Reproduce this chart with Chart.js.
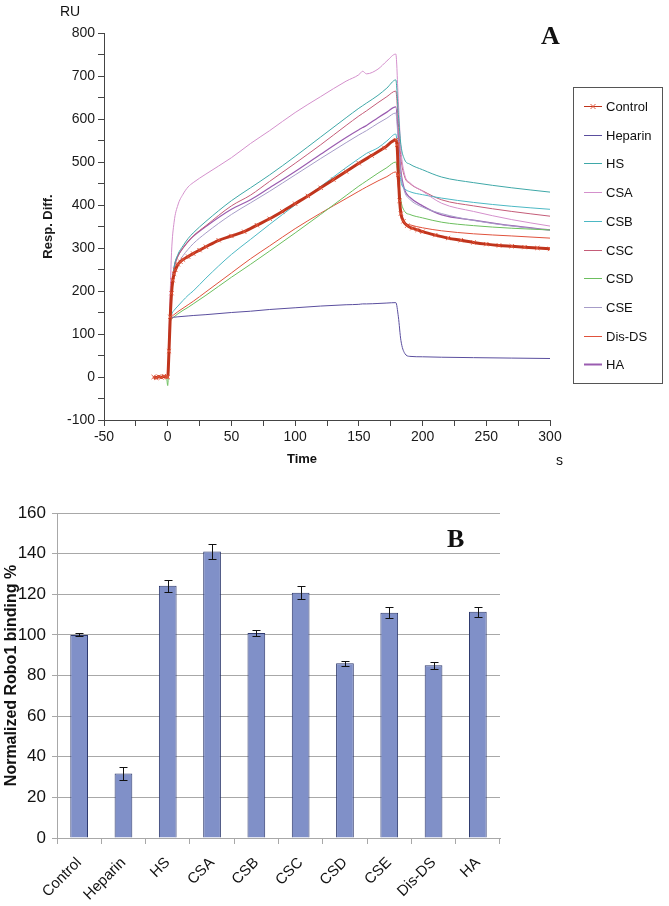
<!DOCTYPE html>
<html>
<head>
<meta charset="utf-8">
<script src="https://cdn.jsdelivr.net/npm/chart.js@4.4.1/dist/chart.umd.min.js"></script>
<style>
  body { margin: 0; background: #fff; }
  #wrap { position: relative; width: 669px; height: 906px; }
  canvas { position: absolute; left: 0; }
  #chartA { top: 0; }
  #chartB { top: 470px; }
</style>
</head>
<body>
<div id="wrap">
  <canvas id="chartA" width="669" height="470"></canvas>
  <canvas id="chartB" width="669" height="436"></canvas>
</div>
<script>
// ---- panel A : sensorgrams (RU vs time, s) ----
const timeS = [-11, -1, 0, 1, 2, 3, 5, 8, 12, 16, 20, 30, 50, 65, 80, 100, 120, 140, 150, 153, 156, 165, 172, 179, 181, 183, 186, 190, 200, 215, 240, 270, 300];

const controlTime = [-11, -9, -7, -5, -3, -1, 0, 1, 2, 3, 4, 5, 6, 8, 10, 12, 16, 20, 25, 30, 40, 50, 60, 70, 80, 90, 100, 110, 120, 130, 140, 150, 160, 170, 179, 180, 181, 182, 183, 185, 188, 192, 196, 200, 210, 220, 230, 240, 250, 260, 270, 280, 290, 300];
const controlRU = [0, -2, 1, -1, 2, 0, 0, 60, 140, 195, 225, 240, 249, 262, 268, 273, 280, 287, 295, 303, 318, 328, 338, 353, 368, 385, 403, 421, 440, 459, 478, 497, 515, 533, 551, 540, 470, 410, 380, 362, 352, 346, 342, 338, 330, 323, 318, 313, 309, 306, 304, 302, 300, 298];

const heparinRU = [0, 0, 0, 60, 125, 137, 139, 140, 141, 142, 143, 145, 150, 153, 157, 161, 165, 168, 169, 170, 170, 171, 172, 173, 140, 85, 55, 48, 47, 46, 45, 44, 43];
const hsRU      = [0, 0, 0, 70, 150, 200, 255, 285, 305, 322, 335, 362, 410, 440, 470, 513, 558, 603, 625, 631, 637, 655, 672, 691, 610, 540, 505, 495, 482, 465, 452, 440, 430];
const csaRU     = [0, 0, 0, 100, 200, 290, 360, 400, 425, 442, 452, 472, 510, 543, 573, 615, 652, 688, 703, 711, 705, 716, 735, 751, 640, 530, 470, 452, 432, 404, 385, 366, 351];
const csbRU     = [0, 0, 0, 60, 130, 145, 155, 165, 178, 190, 200, 230, 285, 320, 355, 400, 443, 487, 508, 514, 520, 533, 549, 565, 505, 455, 438, 431, 424, 416, 406, 397, 390];
const cscRU     = [0, 0, 0, 70, 150, 200, 250, 280, 300, 315, 328, 352, 398, 423, 455, 497, 540, 585, 607, 613, 619, 638, 652, 665, 590, 510, 465, 450, 433, 412, 398, 385, 374];
const csdRU     = [0, 0, -20, 50, 125, 135, 140, 147, 155, 162, 170, 190, 232, 262, 293, 335, 378, 422, 444, 450, 456, 474, 487, 500, 460, 410, 385, 378, 370, 360, 352, 346, 342];
const cseRU     = [0, 0, 0, 70, 145, 190, 235, 262, 282, 297, 310, 335, 378, 405, 432, 470, 508, 545, 563, 568, 573, 590, 602, 614, 545, 470, 430, 413, 395, 380, 364, 351, 341];
const disdsRU   = [0, 0, 0, 60, 130, 140, 145, 152, 160, 168, 176, 198, 242, 275, 305, 345, 381, 415, 432, 437, 442, 456, 466, 477, 440, 385, 360, 354, 347, 340, 333, 328, 323];
const haRU      = [0, 0, 0, 70, 150, 205, 255, 282, 300, 315, 327, 350, 390, 412, 440, 478, 518, 557, 575, 580, 585, 603, 616, 628, 560, 480, 435, 418, 398, 377, 365, 352, 342];

// ---- panel B : normalized binding ----
const categories = ['Control', 'Heparin', 'HS', 'CSA', 'CSB', 'CSC', 'CSD', 'CSE', 'Dis-DS', 'HA'];
const bindingPct = [100, 31.8, 124.2, 141.1, 100.9, 120.8, 86.0, 110.9, 85.0, 111.4];
const bindingErr = [0.7, 3.3, 3.0, 3.8, 1.5, 3.3, 1.3, 2.8, 1.8, 2.5];

Chart.defaults.font.family = "'Liberation Sans', Arial, sans-serif";
Chart.defaults.color = '#1a1a1a';

function pts(xs, ys) {
  return xs.map((x, i) => ({ x: x, y: ys[i] }));
}

function curve(label, ys, color, width) {
  return {
    label: label,
    data: pts(timeS, ys),
    borderColor: color,
    backgroundColor: color,
    borderWidth: width || 1,
    pointRadius: 0,
    cubicInterpolationMode: 'monotone'
  };
}

const sensorSets = [
  curve('Heparin', heparinRU, '#5A4E9E'),
  curve('HS', hsRU, '#3FA8A8'),
  curve('CSA', csaRU, '#D490CC'),
  curve('CSB', csbRU, '#4CB8C4'),
  curve('CSC', cscRU, '#C45C78'),
  curve('CSD', csdRU, '#6CBF5E'),
  curve('CSE', cseRU, '#A69CC8'),
  curve('Dis-DS', disdsRU, '#E0523C'),
  curve('HA', haRU, '#9A5CB0', 1.2),
  {
    label: 'Control',
    data: pts(controlTime, controlRU),
    borderColor: '#C0341C',
    backgroundColor: '#C0341C',
    borderWidth: 3,
    pointStyle: 'crossRot',
    pointRadius: 3,
    pointBorderWidth: 1,
    pointBorderColor: '#E0553A',
    cubicInterpolationMode: 'monotone',
    order: -1
  }
];
const legendOrder = ['Control', 'Heparin', 'HS', 'CSA', 'CSB', 'CSC', 'CSD', 'CSE', 'Dis-DS', 'HA'];

// box legend + free labels for panel A
const panelALabels = {
  id: 'panelALabels',
  afterDraw(chart) {
    const ctx = chart.ctx;
    ctx.save();
    ctx.strokeStyle = '#555';
    ctx.lineWidth = 1;
    ctx.strokeRect(573.5, 87.5, 89, 296);
    ctx.font = "13px 'Liberation Sans', Arial";
    ctx.textBaseline = 'middle';
    ctx.textAlign = 'left';
    legendOrder.forEach((name, i) => {
      const ds = chart.data.datasets.find(d => d.label === name);
      const y = Math.round(106 + i * 28.7) + 0.5;
      ctx.strokeStyle = ds.borderColor;
      ctx.lineWidth = name === 'HA' ? 2 : 1;
      ctx.beginPath();
      ctx.moveTo(584, y);
      ctx.lineTo(602, y);
      ctx.stroke();
      if (ds.pointStyle === 'crossRot') {
        ctx.strokeStyle = ds.pointBorderColor;
        ctx.beginPath();
        ctx.moveTo(590.5, y - 2.5); ctx.lineTo(595.5, y + 2.5);
        ctx.moveTo(590.5, y + 2.5); ctx.lineTo(595.5, y - 2.5);
        ctx.stroke();
      }
      ctx.fillStyle = '#111';
      ctx.fillText(name, 606, y + 1);
    });
    ctx.fillStyle = '#111';
    ctx.textBaseline = 'alphabetic';
    ctx.font = "14px 'Liberation Sans', Arial";
    ctx.fillText('RU', 60, 16);
    ctx.fillText('s', 556, 465);
    ctx.font = "bold 13px 'Liberation Sans', Arial";
    ctx.textAlign = 'center';
    ctx.fillText('Time', 302, 463);
    ctx.textAlign = 'left';
    ctx.font = "bold 26px 'Liberation Serif', 'Times New Roman', serif";
    ctx.fillText('A', 541, 44);
    ctx.restore();
  }
};

new Chart(document.getElementById('chartA'), {
  type: 'line',
  data: { datasets: sensorSets },
  options: {
    responsive: false,
    animation: false,
    layout: { padding: { top: 33, right: 119, left: 0, bottom: 0 } },
    plugins: { legend: { display: false }, tooltip: { enabled: false } },
    scales: {
      x: {
        type: 'linear',
        min: -50,
        max: 300,
        afterFit: s => { s.height = 50; },
        border: { color: '#444' },
        grid: { drawOnChartArea: false, tickLength: 6, color: '#444' },
        ticks: {
          stepSize: 25,
          autoSkip: false,
          maxRotation: 0,
          padding: 3,
          font: { size: 14 },
          callback: v => (v % 50 === 0 ? v : '')
        }
      },
      y: {
        min: -100,
        max: 800,
        afterFit: s => { s.width = 104; },
        border: { color: '#444' },
        grid: { drawOnChartArea: false, tickLength: 6, color: '#444' },
        title: {
          display: true,
          text: 'Resp. Diff.',
          font: { size: 13, weight: 'bold' },
          padding: { top: 41, bottom: 0 }
        },
        ticks: {
          stepSize: 50,
          autoSkip: false,
          padding: 3,
          font: { size: 14 },
          callback: v => (v % 100 === 0 ? v : '')
        }
      }
    }
  },
  plugins: [panelALabels]
});

// error bars + panel letter for B
const errorBars = {
  id: 'errorBars',
  afterDatasetsDraw(chart) {
    const ctx = chart.ctx;
    const yScale = chart.scales.y;
    const meta = chart.getDatasetMeta(0);
    ctx.save();
    ctx.strokeStyle = '#111';
    ctx.lineWidth = 1;
    meta.data.forEach((bar, i) => {
      const v = bindingPct[i], e = bindingErr[i];
      const top = Math.round(yScale.getPixelForValue(v + e)) + 0.5;
      const bot = Math.round(yScale.getPixelForValue(v - e)) + 0.5;
      const x = Math.round(bar.x) + 0.5;
      ctx.beginPath();
      ctx.moveTo(x, top); ctx.lineTo(x, bot);
      ctx.moveTo(x - 4, top); ctx.lineTo(x + 4, top);
      ctx.moveTo(x - 4, bot); ctx.lineTo(x + 4, bot);
      ctx.stroke();
    });
    ctx.fillStyle = '#111';
    ctx.font = "bold 26px 'Liberation Serif', 'Times New Roman', serif";
    ctx.fillText('B', 447, 77);
    ctx.restore();
  }
};

new Chart(document.getElementById('chartB'), {
  type: 'bar',
  data: {
    labels: categories,
    datasets: [{
      data: bindingPct,
      backgroundColor: '#8090C8',
      borderColor: '#2E3A6E',
      borderWidth: 1,
      categoryPercentage: 1,
      barPercentage: 0.4
    }]
  },
  options: {
    responsive: false,
    animation: false,
    layout: { padding: { top: 43, right: 169, left: 0, bottom: 0 } },
    plugins: { legend: { display: false }, tooltip: { enabled: false } },
    scales: {
      x: {
        afterFit: s => { s.height = 68; },
        border: { color: '#A8A8A8' },
        grid: { drawOnChartArea: false, tickLength: 6, color: '#A8A8A8', offset: true },
        ticks: {
          minRotation: 45,
          maxRotation: 45,
          autoSkip: false,
          padding: 10,
          font: { size: 15 },
          color: '#111'
        }
      },
      y: {
        min: 0,
        max: 160,
        afterFit: s => { s.width = 57; },
        border: { color: '#A8A8A8' },
        grid: { color: '#A8A8A8', tickLength: 5 },
        title: {
          display: true,
          text: 'Normalized Robo1 binding %',
          font: { size: 16, weight: 'bold' },
          padding: { top: 2, bottom: 0 },
          color: '#111'
        },
        ticks: {
          stepSize: 20,
          padding: 6,
          color: '#111',
          font: { size: 17, family: "'Liberation Sans Narrow', 'Liberation Sans', Arial" }
        }
      }
    }
  },
  plugins: [errorBars]
});
</script>
</body>
</html>
